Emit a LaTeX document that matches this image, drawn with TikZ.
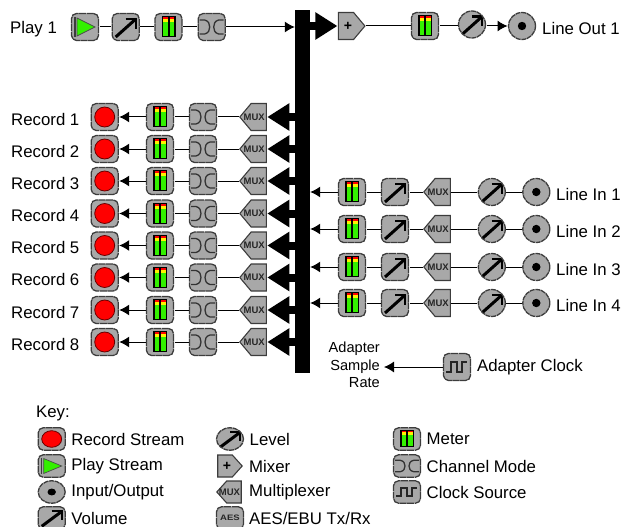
\documentclass[tikz,border=0pt]{standalone}
\usepackage{fontspec}
\setmainfont{Liberation Sans}
\definecolor{rmegray}{HTML}{A8A8A8}
\definecolor{rmeedge}{HTML}{3C3C3C}
\definecolor{rmegreen}{HTML}{33F000}
\usetikzlibrary{arrows.meta,positioning,shapes.symbols}
\newcommand{\muxtext}{\makebox[0pt]{\kern-9pt MUX}}
\newcommand{\mixtext}{\makebox[0pt]{\kern4pt +}}
\tikzset{
  rmeicon/.style={draw=rmeedge,line width=1.3pt,dash pattern=on 7pt off .6pt,fill=rmegray,rounded corners=5pt,minimum width=27pt,minimum height=27pt,inner sep=0pt,outer sep=1pt},
  rmeround/.style={draw=rmeedge,line width=1.3pt,dash pattern=on 5pt off .7pt,fill=rmegray,circle,minimum size=27pt,inner sep=0pt,outer sep=1pt},
  rmesignal/.style={draw=rmeedge,line width=1.1pt,fill=rmegray,signal,signal from=nowhere,signal pointer angle=100,minimum width=26.5pt,minimum height=27pt,inner sep=0pt,outer sep=1pt},
  rmeglyph/.style={shift={(path picture bounding box.center)},solid,sharp corners},
  recicon/.style={rmeicon,path picture={\begin{scope}[rmeglyph]
    \draw[fill=red,draw=black!60!red,line width=.8pt] (0,0) circle (10pt);
  \end{scope}}},
  playicon/.style={rmeicon,path picture={\begin{scope}[rmeglyph]
    \draw[rmeedge,line width=1.2pt] (-10,-10) -- (-10,10);
    \draw[fill=rmegreen,draw=black!70,line width=.7pt] (-8,-9) -- (10,0) -- (-8,9) -- cycle;
  \end{scope}}},
  volarrow/.style={path picture={\begin{scope}[rmeglyph]
    \draw[black,line width=3pt] (-10,10) -- (9,-7);
    \draw[black,line width=2.2pt] (0,-8) -- (10,-8) -- (10,2);
  \end{scope}}},
  volicon/.style={rmeicon,volarrow},
  levelicon/.style={rmeround,volarrow},
  metericon/.style={rmeicon,path picture={\begin{scope}[rmeglyph]
    \fill[black] (-7,-11) rectangle (7,10);
    \foreach \barx in {-5.5,1} {
      \fill[rmegreen] (\barx,-6) rectangle ++(4.5,15);
      \fill[yellow] (\barx,-8) rectangle ++(4.5,3);
      \fill[red] (\barx,-10) rectangle ++(4.5,2);
    }
  \end{scope}}},
  modeicon/.style={rmeicon,path picture={\begin{scope}[rmeglyph]
    \draw[black!80,line width=1.3pt] (-12,-7) -- (-7,-7) .. controls (-3,-6) and (-2,-3) .. (-2,0) .. controls (-2,3) and (-3,6) .. (-7,7) -- (-12,7);
    \draw[black!80,line width=1.3pt] (12,-7) -- (7,-7) .. controls (3,-6) and (2,-3) .. (2,0) .. controls (2,3) and (3,6) .. (7,7) -- (12,7);
  \end{scope}}},
  clockicon/.style={rmeicon,path picture={\begin{scope}[rmeglyph]
    \draw[black!85,line width=1.6pt] (-11,5) -- (-6,5) -- (-6,-5) -- (0,-5) -- (0,5) -- (5,5) -- (5,-5) -- (10,-5);
  \end{scope}}},
  ioicon/.style={rmeround,path picture={\begin{scope}[rmeglyph]
    \fill[black] (0,0) circle (4.2pt);
  \end{scope}}},
  muxicon/.style={rmesignal,signal to=west,font=\fontsize{9.5}{10}\selectfont\bfseries,text=black!85},
  mixicon/.style={rmesignal,signal to=east,font=\fontsize{14}{14}\selectfont\bfseries},
  aesicon/.style={rmeicon,font=\fontsize{9.5}{10}\selectfont\bfseries,text=black!85},
  keyicon/.style={transform shape,yscale=.83},
  keysignal/.style={minimum height=22pt,minimum width=24.5pt,signal pointer angle=96},
  rmetext/.style={font=\fontsize{16.8}{19}\selectfont,inner sep=0pt,anchor=west},
  rmeline/.style={line width=1pt},
  rmeflow/.style={line width=1pt,-{Latex[length=10pt,width=11pt]}},
  rmebig/.style={line width=8pt,-{Triangle[length=22pt,width=26pt]}},
}

\begin{document}
\begin{tikzpicture}[x=1pt,y=-1pt]
  \useasboundingbox (0,0) rectangle (622,527);
  % bus
  \node[fill=black,minimum width=15pt,minimum height=363pt,inner sep=0pt] (bus) at (302.5,191.5) {};
  % play row
  \node[rmetext] (playl) at (10,29) {Play 1};
  \node[playicon] (play) at (85,27) {};
  \node[volicon,right=11.7pt of play] (playv) {};
  \node[metericon,right=13.8pt of playv] (playm) {};
  \node[modeicon,right=14.2pt of playm] (playc) {};
  \draw[rmeline] (play) -- (playv);
  \draw[rmeline] (playv) -- (playm);
  \draw[rmeline] (playm) -- (playc);
  \draw[rmeflow] (playc) -- (bus.west |- playc);
  % line out row
  \node[mixicon] (mix) at (346,26) {\mixtext};
  \node[metericon] (outm) at (425,26) {};
  \node[levelicon] (outv) at (472,24.5) {};
  \node[ioicon] (out) at (522,26) {};
  \node[rmetext] (outl) at (542,28) {Line Out 1};
  \draw[rmebig] (bus.east |- mix) -- (mix.west);
  \draw[rmeline] (mix.east) -- (outm);
  \draw[rmeline] (outm) -- (outv.west |- outm);
  \draw[rmeflow] (outv.east |- out) -- (out);
  % record rows
  \foreach \i/\y in {1/117,2/149,3/181,4/213.5,5/245.5,6/277.5,7/310,8/342} {
    \node[rmetext] (recl\i) at (11,\y+2) {Record \i};
    \node[recicon] (rec\i) at (104.7,\y) {};
    \node[metericon,right=26.3pt of rec\i] (recm\i) {};
    \node[modeicon,right=14pt of recm\i] (recc\i) {};
    \node[muxicon,right=21pt of recc\i] (recx\i) {\muxtext};
    \draw[rmeflow] (recm\i) -- (rec\i);
    \draw[rmeline] (recc\i) -- (recm\i);
    \draw[rmeline] (recx\i.west) -- (recc\i);
    \draw[rmebig] (bus.west |- recx\i.east) -- (recx\i.east);
  }
  % line in rows
  \foreach \i/\y in {1/192,2/229,3/267,4/303} {
    \node[metericon] (inm\i) at (352,\y) {};
    \node[volicon,right=14pt of inm\i] (inv\i) {};
    \node[muxicon,right=13pt of inv\i] (inx\i) {\muxtext};
    \node[levelicon,right=26pt of inx\i] (ing\i) {};
    \node[ioicon,right=15.5pt of ing\i] (in\i) {};
    \node[rmetext] (inl\i) at (556,\y+2) {Line In \i};
    \draw[rmeline] (in\i) -- (ing\i);
    \draw[rmeline] (ing\i) -- (inx\i.east);
    \draw[rmeline] (inx\i.west) -- (inv\i);
    \draw[rmeline] (inv\i) -- (inm\i);
    \draw[rmeflow] (inm\i) -- (bus.east |- inm\i);
  }
  % clock
  \node[clockicon] (clk) at (457,367) {};
  \node[rmetext] (clkl) at (477,367) {Adapter Clock};
  \node[font=\fontsize{14.6}{17.5}\selectfont,align=right,inner sep=0pt,anchor=east] (rate) at (380,365) {Adapter\\Sample\\Rate};
  \draw[rmeflow,shorten >=4pt] (clk) -- (rate.east |- clk);
  % key
  \node[rmetext] (key) at (36,413) {Key:};
  \foreach \n/\s/\x/\y/\t in {
    a/recicon/51.7/439/Record Stream,
    b/playicon/51.7/466/Play Stream,
    c/ioicon/51.7/492/Input\slash Output,
    d/volicon/51.7/518/Volume,
    e/levelicon/230/439/Level,
    h/metericon/407/439/Meter,
    i/modeicon/407/466/Channel Mode,
    j/clockicon/407/492/Clock Source} {
    \node[\s,keyicon] (key\n) at (\x,\y) {};
    \node[rmetext] (keyl\n) at (\x+19.5,\y) {\t};
  }
  \node[mixicon,keysignal] (keyf) at (225,466) {\mixtext};
  \node[rmetext] (keylf) at (249,466) {Mixer};
  \node[muxicon,keysignal] (keyg) at (234,492) {\muxtext};
  \node[rmetext] (keylg) at (249,492) {Multiplexer};
  \node[aesicon,keyicon] (keyk) at (230,518) {AES};
  \node[rmetext] (keylk) at (249,518) {AES/EBU Tx/Rx};
\end{tikzpicture}
\end{document}
